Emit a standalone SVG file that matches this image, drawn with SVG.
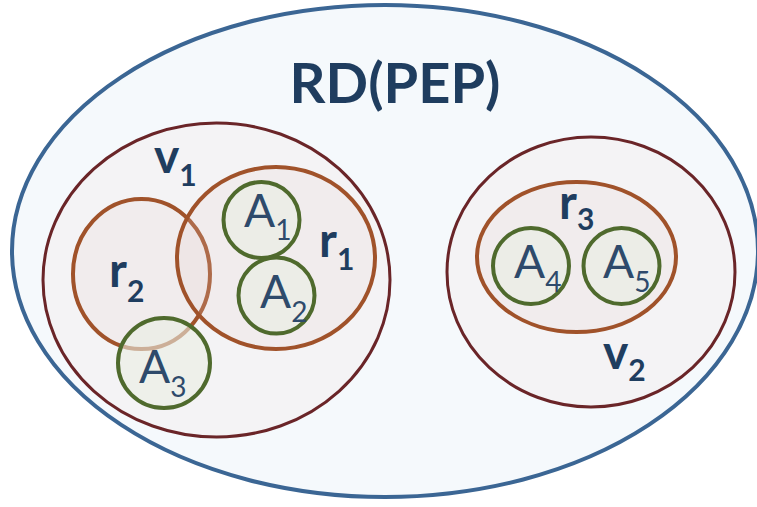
<svg xmlns="http://www.w3.org/2000/svg" width="757" height="507" viewBox="0 0 757 507">
<style>
.outer{fill:#f5f9fc;stroke:#3b6694;stroke-width:4}
.v{fill:#f4f3f5;stroke:#6a2528;stroke-width:3}
.r{fill:#e8d3cf;fill-opacity:0.2;stroke:#a0522a;stroke-width:4}
.a{fill:#eaefe3;fill-opacity:0.6;stroke:#4f6a2d;stroke-width:4}
.lb{font-family:Lato,"Open Sans",sans-serif;font-weight:bold;fill:#1f3d5f}
.la{font-family:Lato,"Open Sans",sans-serif;fill:#2e4a6b}
.title{font-family:Lato,"Open Sans",sans-serif;font-weight:bold;fill:#1f3d5f;font-size:56px}
</style>
<g id="rdpep">
<ellipse class="outer" cx="385" cy="251" rx="373" ry="246"/>
<text class="title" x="395" y="103" text-anchor="middle">RD(PEP)</text>
</g>
<g id="v1">
<ellipse class="v" cx="216.5" cy="280" rx="173.5" ry="157"/>
<text class="lb" x="154" y="173" font-size="48">v<tspan font-size="30" dy="13">1</tspan></text>
</g>
<g id="v2">
<ellipse class="v" cx="591" cy="272" rx="144" ry="135"/>
<text class="lb" x="603" y="369" font-size="48">v<tspan font-size="30" dy="12">2</tspan></text>
</g>
<g id="r2">
<ellipse class="r" cx="141.5" cy="274" rx="68.5" ry="75"/>
<text class="lb" x="109" y="287" font-size="48">r<tspan font-size="30" dy="15">2</tspan></text>
</g>
<g id="r1">
<ellipse class="r" cx="276" cy="258" rx="99" ry="91"/>
<text class="lb" x="319" y="257" font-size="48">r<tspan font-size="30" dy="13">1</tspan></text>
</g>
<g id="r3">
<ellipse class="r" cx="576.5" cy="257" rx="99.5" ry="75"/>
<text class="lb" x="559" y="219" font-size="48">r<tspan font-size="30" dy="11">3</tspan></text>
</g>
<g id="A1">
<circle class="a" cx="261.5" cy="220" r="38"/>
<text class="la" x="244" y="227" font-size="46">A<tspan font-size="28" dy="13">1</tspan></text>
</g>
<g id="A2">
<circle class="a" cx="276.5" cy="295.5" r="38"/>
<text class="la" x="260" y="308" font-size="46">A<tspan font-size="28" dy="14">2</tspan></text>
</g>
<g id="A3">
<ellipse class="a" cx="164" cy="363" rx="46" ry="45"/>
<text class="la" x="139" y="383" font-size="46">A<tspan font-size="28" dy="14">3</tspan></text>
</g>
<g id="A4">
<circle class="a" cx="531" cy="266" r="38"/>
<text class="la" x="514" y="278" font-size="46">A<tspan font-size="28" dy="14">4</tspan></text>
</g>
<g id="A5">
<circle class="a" cx="621.5" cy="266" r="38"/>
<text class="la" x="603" y="278" font-size="46">A<tspan font-size="28" dy="14">5</tspan></text>
</g>
<g id="connectors"/>
</svg>
